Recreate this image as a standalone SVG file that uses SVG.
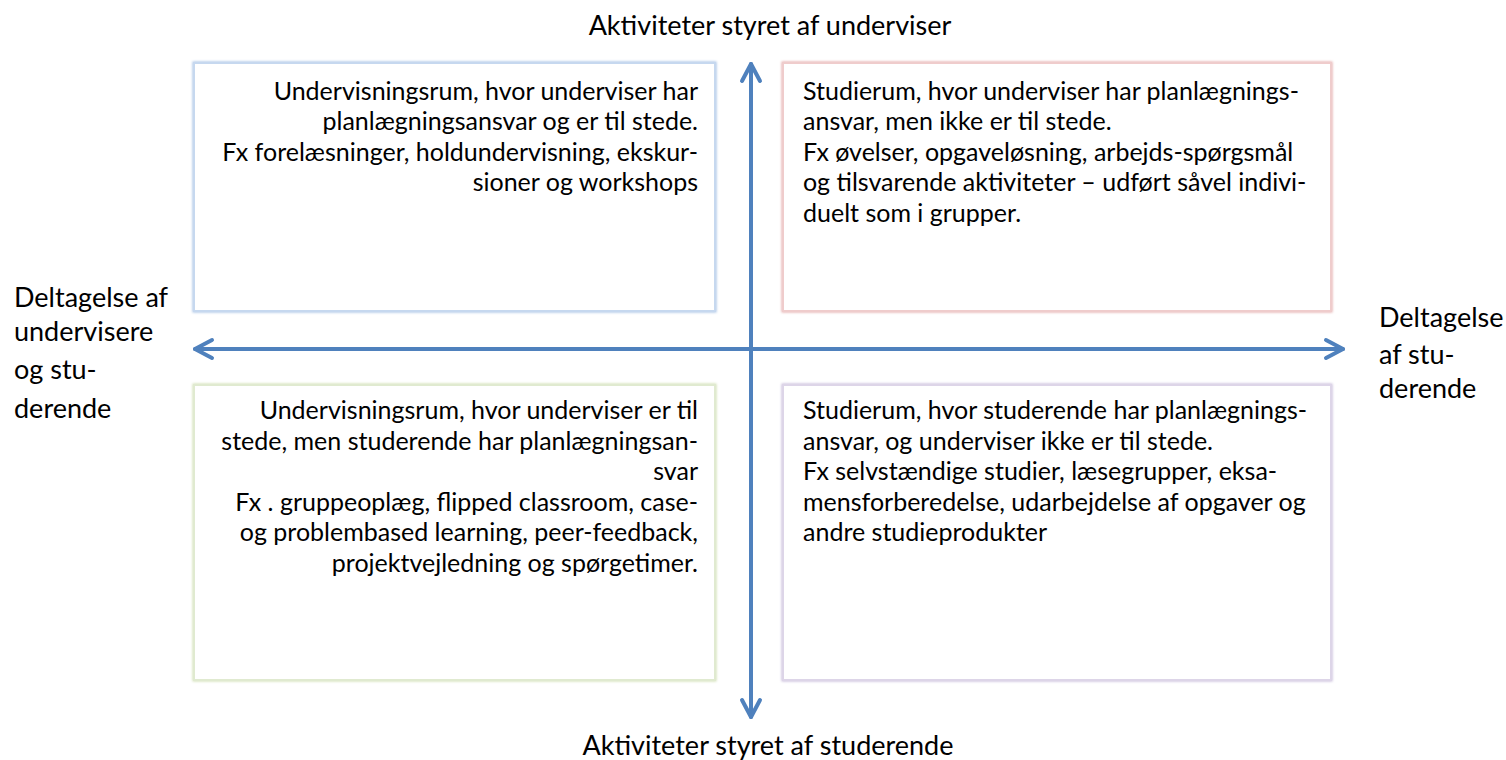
<svg xmlns="http://www.w3.org/2000/svg" width="1506" height="760" viewBox="0 0 1506 760">
<defs>
<style>
text{font-family:Lato,"Open Sans","Liberation Sans",sans-serif;fill:#000}
.t{font-size:25px}
.lab{font-size:27px}
.r{text-anchor:end}
.c{text-anchor:middle}
.box{fill:#fff;stroke-width:2}
.ax{stroke:#4f81bd;stroke-width:4;fill:none;stroke-linecap:round;stroke-linejoin:round}
</style>
<filter id="glow" x="-5%" y="-5%" width="110%" height="110%"><feGaussianBlur stdDeviation="1"/></filter>
</defs>
<rect width="1506" height="760" fill="#fff"/>
<g id="tl">
<rect x="194" y="63" width="521" height="248" fill="none" stroke="#a9c3e6" stroke-width="3" filter="url(#glow)"/>
<rect class="box" x="194" y="63" width="521" height="248" stroke="#c6d8ef"/>
<text class="t r"><tspan x="698" y="100">Undervisningsrum, hvor underviser har</tspan><tspan x="698" y="130">planlægningsansvar og er til stede.</tspan><tspan x="698" y="161">Fx forelæsninger, holdundervisning, ekskur-</tspan><tspan x="698" y="191">sioner og workshops</tspan></text>
</g>
<g id="tr">
<rect x="783" y="63" width="548" height="248" fill="none" stroke="#e6b0b0" stroke-width="3" filter="url(#glow)"/>
<rect class="box" x="783" y="63" width="548" height="248" stroke="#efcccc"/>
<text class="t"><tspan x="803" y="100">Studierum, hvor underviser har planlægnings-</tspan><tspan x="803" y="130">ansvar, men ikke er til stede.</tspan><tspan x="803" y="161">Fx øvelser, opgaveløsning, arbejds-spørgsmål</tspan><tspan x="803" y="191">og tilsvarende aktiviteter – udført såvel indivi-</tspan><tspan x="803" y="222">duelt som i grupper.</tspan></text>
</g>
<g id="bl">
<rect x="194" y="385" width="521" height="295" fill="none" stroke="#d3e1b8" stroke-width="3" filter="url(#glow)"/>
<rect class="box" x="194" y="385" width="521" height="295" stroke="#e0ead0"/>
<text class="t r"><tspan x="698" y="419">Undervisningsrum, hvor underviser er til</tspan><tspan x="698" y="450">stede, men studerende har planlægningsan-</tspan><tspan x="698" y="480">svar</tspan><tspan x="698" y="511">Fx . gruppeoplæg, flipped classroom, case-</tspan><tspan x="698" y="541">og problembased learning, peer-feedback,</tspan><tspan x="698" y="572">projektvejledning og spørgetimer.</tspan></text>
</g>
<g id="br">
<rect x="783" y="385" width="548" height="295" fill="none" stroke="#c9bedb" stroke-width="3" filter="url(#glow)"/>
<rect class="box" x="783" y="385" width="548" height="295" stroke="#ddd5e8"/>
<text class="t"><tspan x="803" y="419">Studierum, hvor studerende har planlægnings-</tspan><tspan x="803" y="450">ansvar, og underviser ikke er til stede.</tspan><tspan x="803" y="480">Fx selvstændige studier, læsegrupper, eksa-</tspan><tspan x="803" y="511">mensforberedelse, udarbejdelse af opgaver og</tspan><tspan x="803" y="541">andre studieprodukter</tspan></text>
</g>
<g id="connectors">
<line class="ax" x1="751" y1="64" x2="751" y2="717"/>
<polyline class="ax" points="742,81 751,64 760,81"/>
<polyline class="ax" points="742,700 751,717 760,700"/>
<line class="ax" x1="195" y1="349" x2="1343" y2="349"/>
<polyline class="ax" points="212,340 195,349 212,358"/>
<polyline class="ax" points="1326,340 1343,349 1326,358"/>
</g>
<g id="labels">
<text class="lab c" x="770" y="35">Aktiviteter styret af underviser</text>
<text class="lab c" x="768" y="755">Aktiviteter styret af studerende</text>
<text class="lab"><tspan x="14" y="307">Deltagelse af</tspan><tspan x="14" y="341">undervisere</tspan><tspan x="14" y="379">og stu-</tspan><tspan x="14" y="418">derende</tspan></text>
<text class="lab"><tspan x="1379" y="327">Deltagelse</tspan><tspan x="1379" y="364">af stu-</tspan><tspan x="1379" y="398">derende</tspan></text>
</g>
</svg>
